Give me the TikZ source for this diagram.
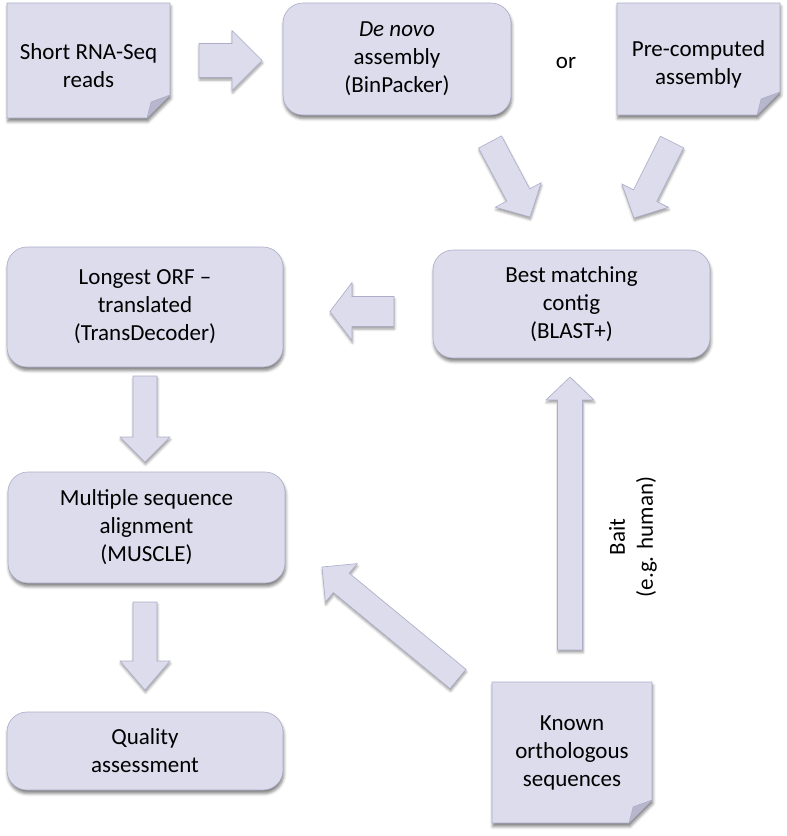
\documentclass[tikz,border=0pt]{standalone}
\usepackage{fontspec}
\setmainfont{Carlito}
\usetikzlibrary{calc,shadows.blur}
\definecolor{boxfill}{RGB}{220,220,237}
\definecolor{boxline}{RGB}{172,172,200}
\definecolor{foldfill}{RGB}{182,182,204}
\tikzset{
  txt/.style={font=\fontsize{23}{28}\selectfont, align=center, text=black},
  shad/.style={blur shadow={shadow xshift=0.8pt, shadow yshift=-3.5pt, shadow blur radius=3pt, shadow opacity=50}},
  roundbox/.style={txt, rectangle, rounded corners=20pt, draw=boxline, line width=0.6pt, fill=boxfill, inner sep=0pt, shad},
  noteshape/.style={draw=boxline, line width=0.6pt, fill=boxfill, shad},
  foldshape/.style={draw=boxline, line width=0.5pt, fill=foldfill, line join=round},
  blockarrow/.style={draw=boxline, line width=0.6pt, fill=boxfill, line join=miter,
    blur shadow={shadow xshift=0.5pt, shadow yshift=-2.5pt, shadow blur radius=2.5pt, shadow opacity=40}},
}
% block arrow: from, to, shaft half width, head half width, head length
\newcommand{\blockarr}[5]{%
  \coordinate (hb) at ($(#2)!#5!(#1)$);
  \path[blockarrow] ($(#1)!#3!90:(#2)$) -- ($(hb)!#3!90:(#2)$) -- ($(hb)!#4!90:(#2)$)
    -- (#2) -- ($(hb)!#4!-90:(#2)$) -- ($(hb)!#3!-90:(#2)$) -- ($(#1)!#3!-90:(#2)$) -- cycle;
}
% folded note: centre coordinate, half width, half height, fold size
\newcommand{\notebg}[4]{%
  \path[noteshape] ($(#1)+(-#2,-#3)$) -- ($(#1)+(#2,-#3)$) -- ($(#1)+(#2,#3-#4)$)
    -- ($(#1)+(#2-#4,#3)$) -- ($(#1)+(-#2,#3)$) -- cycle;
  \path[foldshape] ($(#1)+(#2,#3-#4)$) -- ($(#1)+(#2-#4,#3)$)
    -- ($(#1)+(#2-0.82*#4,#3-0.7*#4)$) -- cycle;
}
\begin{document}
\begin{tikzpicture}[x=1pt,y=-1pt]
\useasboundingbox (0,0) rectangle (787,836);

% folded notes (drawn first, text placed on top)
\coordinate (shortc) at (88.5,60.5);
\coordinate (precompc) at (698.5,59);
\coordinate (knownc) at (572,752.5);
\notebg{shortc}{81.5}{57.5}{23}
\notebg{precompc}{81.5}{56}{23}
\notebg{knownc}{80}{70.5}{23}

% boxes and texts
\node[txt] (short) at ($(shortc)+(0,5)$) {Short RNA-Seq\\reads};
\node[roundbox, minimum width=228pt, minimum height=112pt] (denovo) at (397,59) {\textit{De novo}\\assembly\\(BinPacker)};
\node[txt] (or) at (566,63) {or};
\node[txt] (precomp) at ($(precompc)+(0,5)$) {Pre-computed\\assembly};
\node[roundbox, minimum width=277pt, minimum height=108pt] (best) at (571.5,304) {Best matching\\contig\\(BLAST+)};
\node[roundbox, minimum width=276pt, minimum height=120pt] (orf) at (145,307) {Longest ORF –\\translated\\(TransDecoder)};
\node[roundbox, minimum width=277pt, minimum height=111pt] (muscle) at (146.5,527.5) {Multiple sequence\\alignment\\(MUSCLE)};
\node[roundbox, minimum width=276pt, minimum height=78pt] (quality) at (145,751) {Quality\\assessment};
\node[txt] (known) at (knownc) {Known\\orthologous\\sequences};
\node[txt, rotate=90] (bait) at (633,537) {Bait\\(e.g. human)};

% arrow end points
\coordinate (a1s) at (199,60.5);   \coordinate (a1e) at (262,60.5);
\coordinate (a2s) at (490,142);    \coordinate (a2e) at (530,217);
\coordinate (a3s) at (672,142);    \coordinate (a3e) at (634,218);
\coordinate (a4s) at (394,311.5);  \coordinate (a4e) at (330,311.5);
\coordinate (a5s) at (145,376);    \coordinate (a5e) at (145,462);
\coordinate (a6s) at (145,602);    \coordinate (a6e) at (145,690);
\coordinate (a7s) at (570,650);    \coordinate (a7e) at (570,377);
\coordinate (a8s) at (458,679);    \coordinate (a8e) at (322,567);

\blockarr{a1s}{a1e}{17pt}{30pt}{30pt}
\blockarr{a2s}{a2e}{13pt}{26pt}{25pt}
\blockarr{a3s}{a3e}{13pt}{26pt}{25pt}
\blockarr{a4s}{a4e}{15pt}{29pt}{22pt}
\blockarr{a5s}{a5e}{12pt}{25pt}{25pt}
\blockarr{a6s}{a6e}{12pt}{25pt}{29pt}
\blockarr{a7s}{a7e}{12.5pt}{24pt}{23pt}
\blockarr{a8s}{a8e}{12.5pt}{25pt}{25pt}
\end{tikzpicture}
\end{document}
